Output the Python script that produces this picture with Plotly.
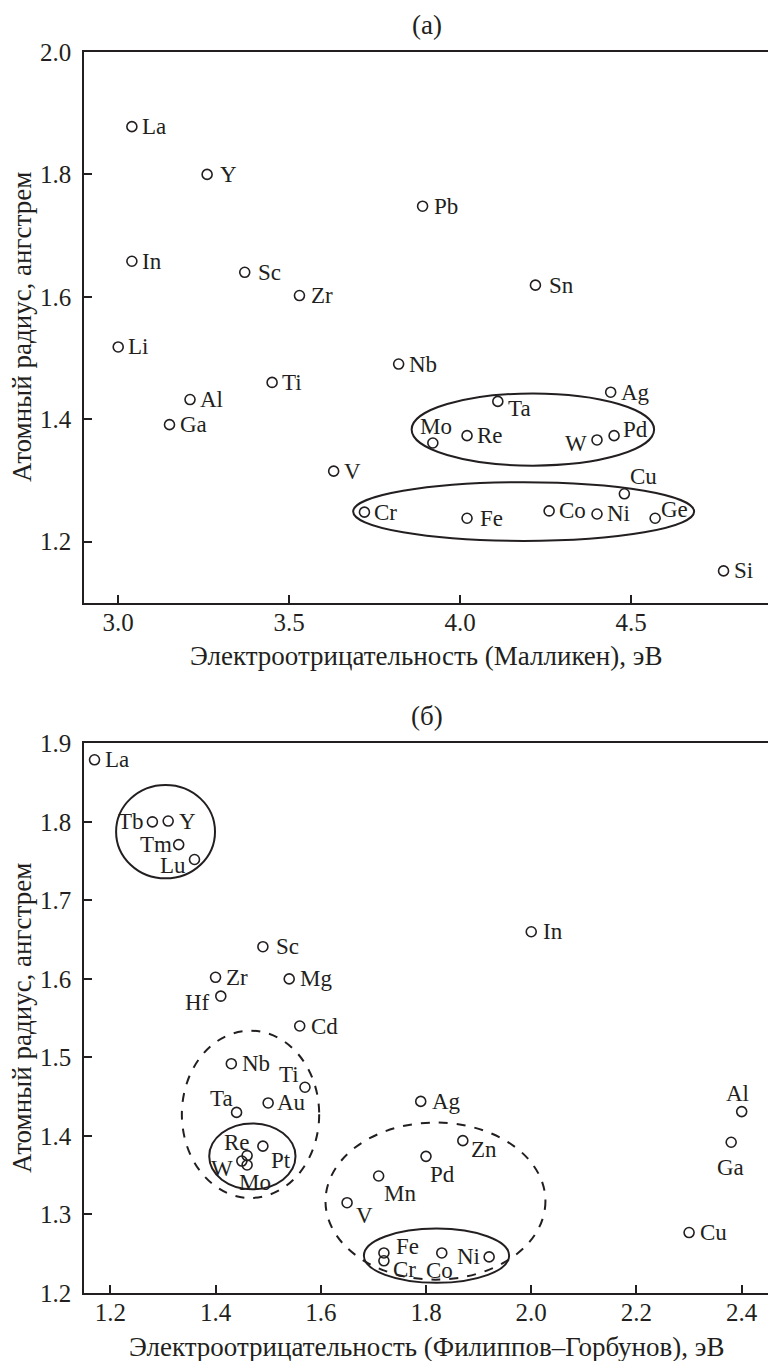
import plotly.graph_objects as go

# ---------------- data: panel (a) ----------------
elements_a = ["La", "Y", "In", "Sc", "Zr", "Pb", "Sn", "Li", "Ti", "Al", "Ga", "V", "Cr",
              "Nb", "Ta", "Ag", "Mo", "Re", "W", "Pd", "Cu", "Fe", "Co", "Ni", "Ge", "Si"]
x_a = [3.04, 3.26, 3.04, 3.37, 3.53, 3.89, 4.22, 3.00, 3.45, 3.21, 3.15, 3.63, 3.72,
       3.82, 4.11, 4.44, 3.92, 4.02, 4.40, 4.45, 4.48, 4.02, 4.26, 4.40, 4.57, 4.77]
y_a = [1.878, 1.800, 1.658, 1.640, 1.602, 1.748, 1.619, 1.518, 1.460, 1.432, 1.391, 1.315, 1.248,
       1.490, 1.429, 1.444, 1.361, 1.373, 1.366, 1.373, 1.278, 1.238, 1.250, 1.245, 1.238, 1.152]
xticks_a = [3.0, 3.5, 4.0, 4.5]
yticks_a = [1.2, 1.4, 1.6, 1.8, 2.0]
# group outlines (x0, x1, y0, y1, dash)
groups_a = [(3.858, 4.567, 1.324, 1.442, "solid"),
            (3.687, 4.684, 1.201, 1.297, "solid")]

# ---------------- data: panel (б) ----------------
elements_b = ["La", "Tb", "Y", "Tm", "Lu", "Sc", "In", "Zr", "Mg", "Hf", "Cd", "Nb", "Ti", "Au",
              "Ta", "Pt", "Re", "W", "Mo", "V", "Mn", "Ag", "Zn", "Pd", "Fe", "Cr", "Co", "Ni",
              "Al", "Ga", "Cu"]
x_b = [1.17, 1.28, 1.31, 1.33, 1.36, 1.49, 2.00, 1.40, 1.54, 1.41, 1.56, 1.43, 1.57, 1.50,
       1.44, 1.49, 1.46, 1.45, 1.46, 1.65, 1.71, 1.79, 1.87, 1.80, 1.72, 1.72, 1.83, 1.92,
       2.40, 2.38, 2.30]
y_b = [1.879, 1.800, 1.801, 1.771, 1.752, 1.641, 1.660, 1.602, 1.600, 1.578, 1.540, 1.492, 1.462, 1.442,
       1.430, 1.387, 1.375, 1.368, 1.363, 1.315, 1.349, 1.444, 1.394, 1.374, 1.251, 1.241, 1.251, 1.246,
       1.431, 1.392, 1.277]
xticks_b = [1.2, 1.4, 1.6, 1.8, 2.0, 2.2, 2.4]
yticks_b = [1.2, 1.3, 1.4, 1.5, 1.6, 1.7, 1.8, 1.9]
groups_b = [(1.211, 1.399, 1.728, 1.847, "solid"),
            (1.336, 1.597, 1.321, 1.534, "dash"),
            (1.388, 1.552, 1.332, 1.416, "solid"),
            (1.609, 2.027, 1.217, 1.417, "dash"),
            (1.682, 1.958, 1.213, 1.282, "solid")]

xtitle_a = "Электроотрицательность (Малликен), эВ"
xtitle_b = "Электроотрицательность (Филиппов–Горбунов), эВ"
ytitle = "Атомный радиус, ангстрем"
captions = ["(а)", "(б)"]

# ---------------- label placement (style) ----------------
place_a = {"Ta": ("left", 8, -7), "Mo": ("center", 3, 17), "W": ("right", -8, -4),
           "Pd": ("left", 7, 6), "Cu": ("left", 4, 17), "Ge": ("left", 4, 9),
           "Fe": ("left", 11, 0), "Sn": ("left", 12, 0), "Pb": ("left", 9, 0),
           "Sc": ("left", 11, 0), "Zr": ("left", 10, 0), "Y": ("left", 11, 0)}
place_b = {"Tb": ("right", -6, 0), "Y": ("left", 9, 0), "Tm": ("right", -5, 0),
           "Lu": ("right", -6, -6), "Sc": ("left", 11, 0), "In": ("left", 10, 0),
           "Mg": ("left", 9, 0), "Hf": ("right", -9, -6), "Cd": ("left", 9, 0),
           "Nb": ("left", 9, 0), "Ti": ("right", -4, 13), "Au": ("left", 7, 0),
           "Ta": ("right", -2, 14), "Pt": ("left", 6, -14), "Re": ("center", -10, 13),
           "W": ("right", -7, -7), "Mo": ("center", 8, -17), "V": ("left", 7, -13),
           "Mn": ("left", 3, -18), "Ag": ("left", 9, 0), "Zn": ("left", 6, -9),
           "Pd": ("left", 2, -18), "Fe": ("left", 10, 6), "Cr": ("left", 7, -9),
           "Co": ("center", -2, -18), "Ni": ("right", -7, 0), "Al": ("center", -4, 18),
           "Ga": ("center", -1, -25), "Cu": ("left", 9, 0)}

INK = "#231f20"
FONT = "Liberation Serif"
FS_LAB = 23     # point labels
FS_TICK = 25    # tick labels
FS_TITLE = 27   # axis titles and panel captions

fig = go.Figure()
marker = dict(symbol="circle-open", size=10, color=INK, line=dict(width=1.6, color=INK))
fig.add_trace(go.Scatter(x=x_a, y=y_a, mode="markers", marker=marker,
                         xaxis="x", yaxis="y", showlegend=False, hoverinfo="skip"))
fig.add_trace(go.Scatter(x=x_b, y=y_b, mode="markers", marker=marker,
                         xaxis="x2", yaxis="y2", showlegend=False, hoverinfo="skip"))

annotations = []
def add_labels(names, xs, ys, place, xref, yref):
    for n, x, y in zip(names, xs, ys):
        anchor, dx, dy = place.get(n, ("left", 8, 0))
        annotations.append(dict(x=x, y=y, xref=xref, yref=yref, text=n, showarrow=False,
                                xanchor=anchor, yanchor="middle", xshift=dx, yshift=dy,
                                font=dict(family=FONT, size=FS_LAB, color=INK)))

add_labels(elements_a, x_a, y_a, place_a, "x", "y")
add_labels(elements_b, x_b, y_b, place_b, "x2", "y2")

shapes = []
for (x0, x1, y0, y1, dash) in groups_a:
    shapes.append(dict(type="circle", xref="x", yref="y", x0=x0, x1=x1, y0=y0, y1=y1,
                       line=dict(color=INK, width=2, dash=dash)))
for (x0, x1, y0, y1, dash) in groups_b:
    shapes.append(dict(type="circle", xref="x2", yref="y2", x0=x0, x1=x1, y0=y0, y1=y1,
                       line=dict(color=INK, width=2, dash=dash)))

W, H = 768, 1361
ML, MR, MT, MB = 84, 0, 52, 68
ph = H - MT - MB
pw = W - ML - MR
def fy(py):
    return (H - MB - py) / ph
def fx(px):
    return (px - ML) / pw

title_font = dict(family=FONT, size=FS_TITLE, color=INK)
def paper_text(text, px, py, angle=0):
    annotations.append(dict(x=fx(px), y=fy(py), xref="paper", yref="paper", text=text,
                            showarrow=False, xanchor="center", yanchor="middle",
                            textangle=angle, font=title_font))

paper_text(captions[0], 427, 25)
paper_text(captions[1], 427, 716)
paper_text(xtitle_a, 426, 656)
paper_text(xtitle_b, 426, 1347)
paper_text(ytitle, 22, 327, -90)
paper_text(ytitle, 22, 1018, -90)

axis_common = dict(showline=True, linecolor=INK, linewidth=1.6, ticks="inside", ticklen=8,
                   tickwidth=1.6, tickcolor=INK, showgrid=False, zeroline=False,
                   automargin=False,
                   tickfont=dict(family=FONT, size=FS_TICK, color=INK), tickformat=".1f")

fig.update_layout(
    width=W, height=H,
    margin=dict(l=ML, r=MR, t=MT, b=MB),
    paper_bgcolor="white", plot_bgcolor="white",
    font=dict(family=FONT, size=FS_LAB, color=INK),
    xaxis=dict(axis_common, range=[2.9, 4.9], tickvals=xticks_a, anchor="y", mirror=True,
               domain=[0, 1], ticklabelstandoff=-4),
    yaxis=dict(axis_common, range=[1.1, 2.0], tickvals=yticks_a, anchor="x",
               domain=[fy(602.7), 1.0], ticklabelstandoff=6),
    xaxis2=dict(axis_common, range=[1.15, 2.45], tickvals=xticks_b, anchor="y2", mirror=True,
                domain=[0, 1], ticklabelstandoff=-4),
    yaxis2=dict(axis_common, range=[1.2, 1.9], tickvals=yticks_b, anchor="x2",
                domain=[0, fy(743.3)], ticklabelstandoff=6),
    annotations=annotations,
    shapes=shapes,
)

fig.write_html("out.html")
